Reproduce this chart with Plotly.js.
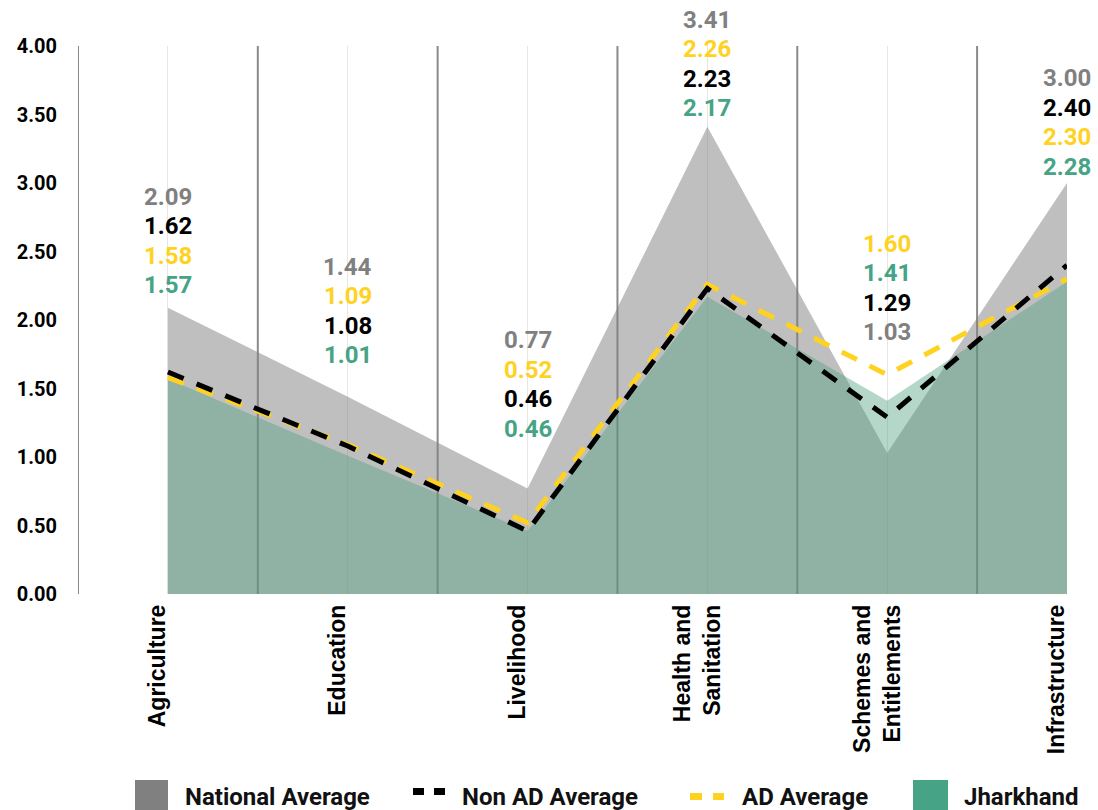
<!DOCTYPE html>
<html>
<head>
<meta charset="utf-8">
<script src="https://cdn.plot.ly/plotly-3.0.1.min.js"></script>
<style>
html,body{margin:0;padding:0;background:#fff;}
#chart{width:1098px;height:810px;}
</style>
</head>
<body>
<div id="chart"></div>
<script>
// ---------- DATA ----------
const categories = ['Agriculture', 'Education', 'Livelihood', 'Health and<br>Sanitation', 'Schemes and<br>Entitlements', 'Infrastructure'];
const seriesNames = ['National Average', 'Non AD Average', 'AD Average', 'Jharkhand'];
const nationalAverage = [2.09, 1.44, 0.77, 3.41, 1.03, 3.00];
const nonAdAverage    = [1.62, 1.08, 0.46, 2.23, 1.29, 2.40];
const adAverage       = [1.58, 1.09, 0.52, 2.26, 1.60, 2.30];
const jharkhand       = [1.57, 1.01, 0.46, 2.17, 1.41, 2.28];
const yTickVals = [0, 0.5, 1, 1.5, 2, 2.5, 3, 3.5, 4];

// ---------- STYLE / LAYOUT ----------
const W = 1098, H = 810;
const M = {l: 78, r: 31, t: 46, b: 216};
const PW = W - M.l - M.r, PH = H - M.t - M.b;
const Y_MAX = 4;
const px2x = p => (p - M.l) / PW;
const px2y = p => (H - M.b - p) / PH;

const colGray = '#808080', colBlack = '#000000', colYellow = '#FFD21F', colGreen = '#46A386';
const labelColors = [colGray, colBlack, colYellow, colGreen];
const allSeries = [nationalAverage, nonAdAverage, adAverage, jharkhand];

// vertical position (axis units) of the top label of each category's stack
const labelTop = [2.898, 2.387, 1.854, 4.19, 2.555, 3.766];
const labelStep = 29.5;

const traces = [
  {x: categories, y: nationalAverage, name: seriesNames[0], type: 'scatter', mode: 'lines',
   line: {width: 0, color: 'rgba(128,128,128,0)'}, fill: 'tozeroy', fillcolor: 'rgba(128,128,128,0.5)', hoverinfo: 'y'},
  {x: categories, y: jharkhand, name: seriesNames[3], type: 'scatter', mode: 'lines',
   line: {width: 0, color: 'rgba(78,160,128,0)'}, fill: 'tozeroy', fillcolor: 'rgba(78,160,128,0.42)', hoverinfo: 'y'},
  {x: categories, y: adAverage, name: seriesNames[2], type: 'scatter', mode: 'lines',
   line: {width: 5, color: colYellow, dash: '17px,14px'}, hoverinfo: 'y'},
  {x: categories, y: nonAdAverage, name: seriesNames[1], type: 'scatter', mode: 'lines',
   line: {width: 5, color: colBlack, dash: '17px,14px'}, hoverinfo: 'y'}
];

const shapes = [];
for (let i = 0; i < categories.length; i++) {
  shapes.push({type: 'line', xref: 'x', yref: 'y', x0: i - 0.5, x1: i - 0.5, y0: 0, y1: Y_MAX,
    line: {color: '#8a8a8a', width: 2}, layer: 'below'});
}

const annotations = [];
categories.forEach((c, i) => {
  const order = [0, 1, 2, 3].sort((a, b) => (allSeries[b][i] - allSeries[a][i]) || (a - b));
  order.forEach((s, k) => {
    annotations.push({x: i, y: labelTop[i] / Y_MAX, xref: 'x', yref: 'paper', yshift: -k * labelStep,
      text: allSeries[s][i].toFixed(2), showarrow: false, xanchor: 'center', yanchor: 'middle',
      font: {family: 'Roboto', size: 24, weight: 700, color: labelColors[s]}});
  });
});

// ---------- manual legend ----------
function rectPx(x0, x1, y0, y1, color) {
  shapes.push({type: 'rect', xref: 'paper', yref: 'paper', x0: px2x(x0), x1: px2x(x1),
    y0: px2y(y1), y1: px2y(y0), fillcolor: color, line: {width: 0}});
}
function legendText(x, y, text) {
  annotations.push({xref: 'paper', yref: 'paper', x: px2x(x), y: px2y(y), text: text,
    showarrow: false, xanchor: 'left', yanchor: 'middle',
    font: {family: 'Roboto', size: 24, weight: 700, color: '#111'}});
}
rectPx(135, 168, 780, 813, colGray);
legendText(183, 797, seriesNames[0]);
rectPx(413, 424, 788, 795, colBlack);
rectPx(434, 445, 788, 795, colBlack);
legendText(460, 797, seriesNames[1]);
rectPx(690, 702, 793, 800, colYellow);
rectPx(713, 724, 793, 800, colYellow);
legendText(740, 797, seriesNames[2]);
rectPx(913, 948, 780, 813, colGreen);
legendText(962, 797, seriesNames[3]);

const layout = {
  width: W, height: H,
  margin: M,
  paper_bgcolor: '#fff', plot_bgcolor: '#fff',
  showlegend: false,
  xaxis: {
    type: 'category', range: [-0.5, 5], showgrid: true, gridcolor: '#e6e6e6', gridwidth: 1,
    zeroline: false, showline: false, ticks: '', tickangle: -90, ticklabelstandoff: 5, ticklabelshift: -10,
    tickfont: {family: 'Liberation Sans', size: 23, weight: 700, color: '#000'}, fixedrange: true
  },
  yaxis: {
    range: [0, Y_MAX], tickvals: yTickVals, tickformat: '.2f', showgrid: false, zeroline: false,
    showline: false, ticks: '', ticklabelstandoff: 20,
    tickfont: {family: 'Roboto', size: 20, weight: 700, color: '#000'}, fixedrange: true
  },
  shapes: shapes,
  annotations: annotations
};

Plotly.newPlot('chart', traces, layout, {displayModeBar: false, staticPlot: true});
</script>
</body>
</html>
